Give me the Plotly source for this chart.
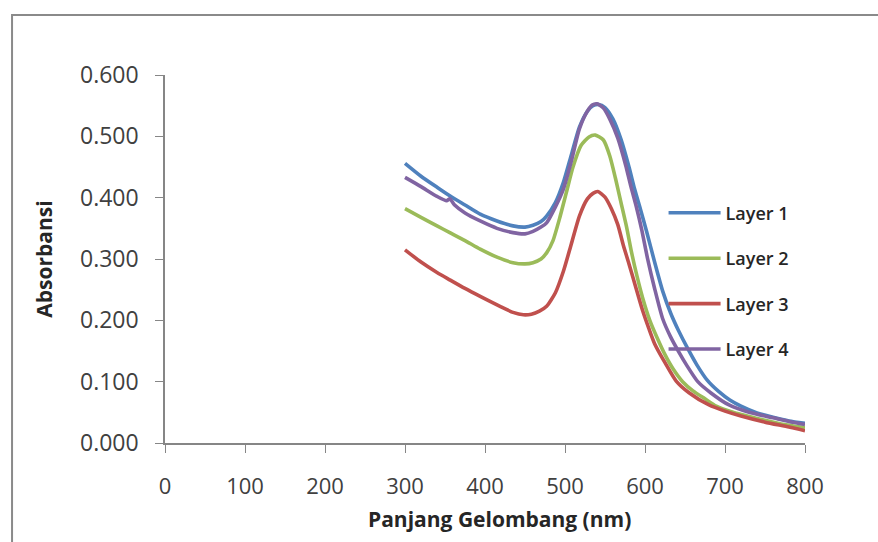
import plotly.graph_objects as go

# Layer 1 (blue)
wl1 = [300, 320, 340, 356, 375, 394, 415, 435, 450, 460, 470, 477, 488, 498, 508, 518, 528, 535, 542,
       550, 560, 570, 580, 587, 595, 602, 612, 622, 632, 642, 653, 665, 678, 692, 706, 720, 740, 760, 780, 800]
ab1 = [0.456, 0.435, 0.417, 0.403, 0.388, 0.373, 0.362, 0.354, 0.352, 0.355, 0.361, 0.370, 0.392, 0.425, 0.470, 0.515, 0.541, 0.550, 0.552,
       0.547, 0.528, 0.495, 0.450, 0.414, 0.378, 0.345, 0.295, 0.248, 0.212, 0.183, 0.155, 0.127, 0.102, 0.084, 0.070, 0.060, 0.049, 0.042, 0.036, 0.032]

# Layer 2 (green)
wl2 = [300, 320, 340, 356, 375, 394, 415, 435, 450, 460, 470, 477, 485, 493, 502, 510, 520, 530, 538,
       548, 556, 563, 570, 577, 583, 590, 597, 606, 615, 625, 635, 647, 660, 675, 689, 710, 740, 770, 800]
ab2 = [0.382, 0.368, 0.354, 0.343, 0.330, 0.316, 0.303, 0.294, 0.292, 0.294, 0.300, 0.310, 0.330, 0.365, 0.410, 0.450, 0.485, 0.499, 0.502,
       0.494, 0.468, 0.432, 0.392, 0.352, 0.312, 0.272, 0.237, 0.200, 0.172, 0.144, 0.121, 0.100, 0.085, 0.072, 0.060, 0.050, 0.040, 0.031, 0.025]

# Layer 3 (red)
wl3 = [300, 320, 340, 356, 375, 394, 420, 435, 448, 458, 468, 477, 488, 498, 508, 518, 528, 535, 541,
       550, 558, 566, 573, 580, 588, 597, 605, 612, 625, 639, 655, 680, 700, 720, 750, 780, 800]
ab3 = [0.315, 0.295, 0.278, 0.266, 0.252, 0.239, 0.222, 0.213, 0.209, 0.210, 0.215, 0.223, 0.245, 0.280, 0.325, 0.370, 0.398, 0.407, 0.410,
       0.401, 0.382, 0.356, 0.322, 0.292, 0.256, 0.216, 0.186, 0.162, 0.131, 0.101, 0.082, 0.062, 0.052, 0.044, 0.034, 0.026, 0.020]

# Layer 4 (purple)
wl4 = [300, 320, 340, 352, 356, 362, 375, 394, 415, 435, 450, 460, 470, 477, 488, 498, 508, 518, 528, 534, 540,
       548, 556, 566, 576, 582, 589, 596, 603, 612, 622, 632, 642, 652, 666, 682, 705, 730, 760, 780, 800]
ab4 = [0.433, 0.418, 0.402, 0.395, 0.398, 0.388, 0.375, 0.362, 0.350, 0.343, 0.341, 0.345, 0.352, 0.359, 0.385, 0.414, 0.460, 0.512, 0.541, 0.551, 0.553,
       0.546, 0.528, 0.497, 0.452, 0.420, 0.386, 0.347, 0.302, 0.252, 0.203, 0.173, 0.149, 0.127, 0.100, 0.082, 0.062, 0.050, 0.041, 0.035, 0.030]

series = [
    ("Layer 1", wl1, ab1, "#4F81BD"),
    ("Layer 2", wl2, ab2, "#9BBB59"),
    ("Layer 3", wl3, ab3, "#C0504D"),
    ("Layer 4", wl4, ab4, "#8064A2"),
]

x_ticks = [0, 100, 200, 300, 400, 500, 600, 700, 800]
y_ticks = [0.0, 0.1, 0.2, 0.3, 0.4, 0.5, 0.6]
y_ticktext = ["%.3f" % v for v in y_ticks]

fig = go.Figure()
for name, xs, ys, col in series:
    fig.add_trace(go.Scatter(x=xs, y=ys, mode="lines", name=name, legendgroup=name,
                             line=dict(color=col, width=3.6, shape="spline", smoothing=0.6)))

FONT = "Open Sans"
fig.update_layout(
    width=878, height=542,
    margin=dict(l=165, r=73, t=75, b=99, autoexpand=False),
    paper_bgcolor="white", plot_bgcolor="white",
    font=dict(family=FONT, color="#404040"),
    showlegend=True,
    legend=dict(x=0.779, y=0.675, xanchor="left", yanchor="top",
                font=dict(family=FONT, size=18, color="#262626", weight=600),
                itemwidth=52, tracegroupgap=19, bgcolor="rgba(0,0,0,0)"),
    xaxis=dict(range=[0, 800], tickvals=x_ticks, ticktext=[str(v) for v in x_ticks],
               showgrid=False, zeroline=False, showline=True, linecolor="#868686", linewidth=1.5,
               ticks="outside", ticklen=8, tickcolor="#868686", tickwidth=1.2,
               tickfont=dict(family=FONT, size=22, color="#404040"), ticklabelstandoff=15),
    yaxis=dict(range=[0, 0.6], tickvals=y_ticks, ticktext=y_ticktext,
               showgrid=False, zeroline=False, showline=True, linecolor="#868686", linewidth=1.5,
               ticks="outside", ticklen=8, tickcolor="#868686", tickwidth=1.2,
               tickfont=dict(family=FONT, size=23, color="#404040"), ticklabelstandoff=12,
               title=dict(text="<b>Absorbansi</b>", standoff=22,
                          font=dict(family=FONT, size=21, color="#262626"))),
    annotations=[dict(text="<b>Panjang Gelombang (nm)</b>", xref="paper", yref="paper",
                      x=0.522, y=-0.207, xanchor="center", yanchor="middle", showarrow=False,
                      font=dict(family=FONT, size=21, color="#262626"))],
    shapes=[dict(type="rect", xref="paper", yref="paper", x0=-0.239, x1=1.3, y0=-0.5, y1=1.163,
                 line=dict(color="#8a8a8a", width=2), fillcolor="rgba(0,0,0,0)", layer="below")],
)

fig.write_html("out.html")
